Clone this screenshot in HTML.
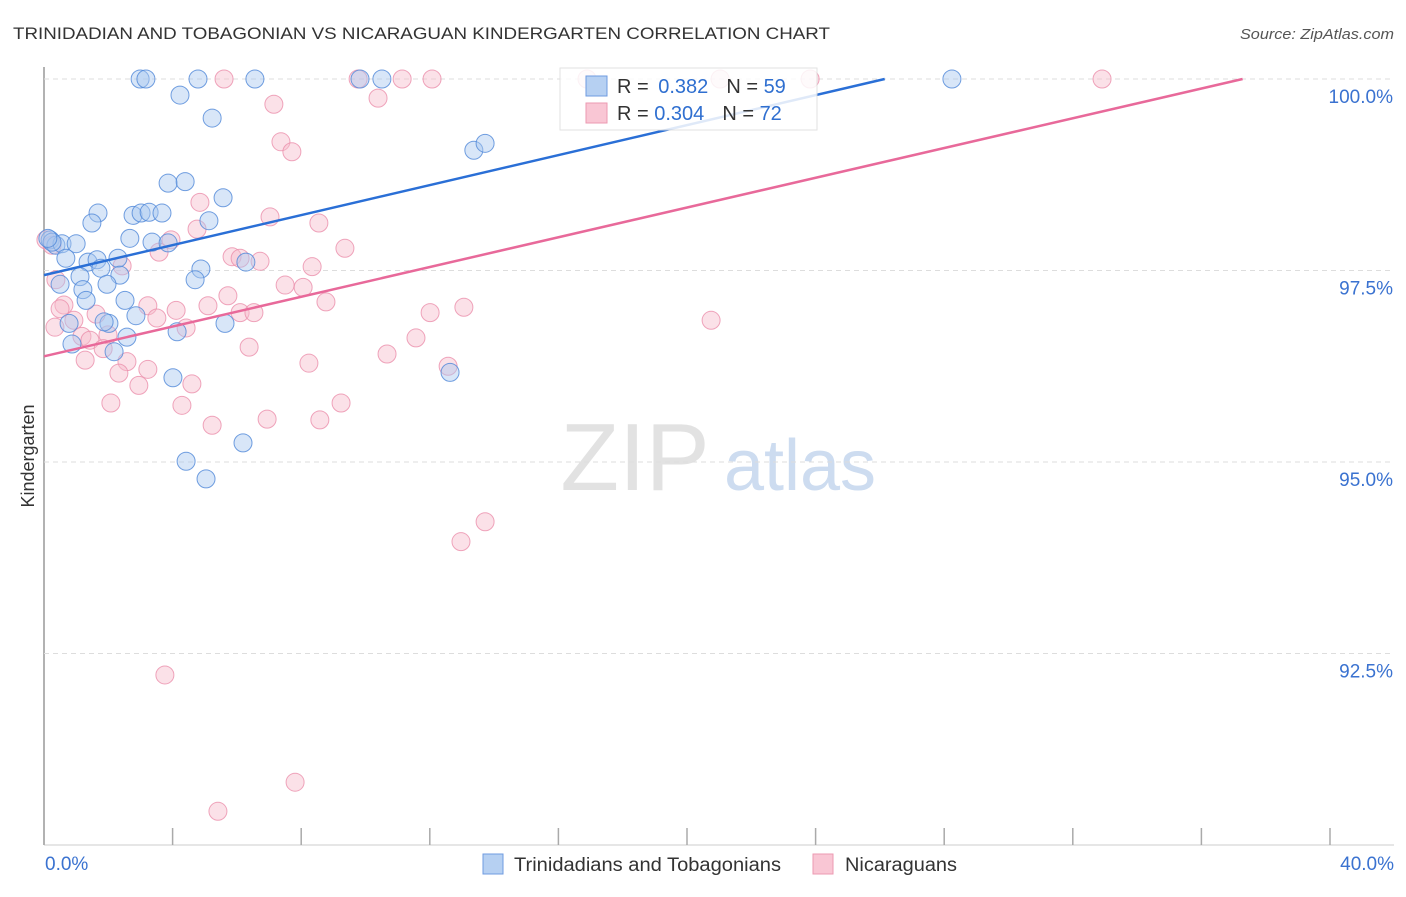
<!DOCTYPE html>
<html><head><meta charset="utf-8"><style>
body{margin:0;background:#fff;font-family:"Liberation Sans",sans-serif}
svg text{font-family:"Liberation Sans",sans-serif}
</style></head><body>
<svg id="c" width="1406" height="892">
<text x="13" y="39" font-size="17" fill="#333" textLength="817" lengthAdjust="spacingAndGlyphs">TRINIDADIAN AND TOBAGONIAN VS NICARAGUAN KINDERGARTEN CORRELATION CHART</text>
<text x="1240" y="39" font-size="15" fill="#555" textLength="154" lengthAdjust="spacingAndGlyphs" font-style="italic">Source: ZipAtlas.com</text>
<text x="34" y="456" font-size="18" fill="#333" text-anchor="middle" transform="rotate(-90 34 456)">Kindergarten</text>
<g><text x="635" y="490" font-size="96" fill="#e2e2e2" text-anchor="middle" font-family="Liberation Serif">ZIP</text><text x="800" y="490" font-size="72" fill="#cddcf0" text-anchor="middle">atlas</text></g>
<g id="grid"></g><g id="pts"></g><g id="lines"></g>
<g>
<rect x="560" y="68" width="257" height="62" fill="#fff" stroke="#ddd" opacity="0.85"/>
<rect x="586" y="76" width="21" height="20" fill="#b6d0f2" stroke="#6f9be0"/>
<rect x="586" y="103" width="21" height="20" fill="#f9c6d4" stroke="#ec9ab2"/>
<text x="617" y="93" font-size="20" fill="#333">R = <tspan fill="#2f6fd0" dx="4">0.382</tspan><tspan dx="18" fill="#333">N = </tspan><tspan fill="#2f6fd0">59</tspan></text>
<text x="617" y="120" font-size="20" fill="#333">R = <tspan fill="#2f6fd0">0.304</tspan><tspan dx="18" fill="#333">N = </tspan><tspan fill="#2f6fd0">72</tspan></text>
</g>
<g>
<rect x="483" y="854" width="20" height="20" fill="#b6d0f2" stroke="#6f9be0"/>
<text x="514" y="871" font-size="19" fill="#333" textLength="267" lengthAdjust="spacingAndGlyphs">Trinidadians and Tobagonians</text>
<rect x="813" y="854" width="20" height="20" fill="#f9c6d4" stroke="#ec9ab2"/>
<text x="845" y="871" font-size="19" fill="#333" textLength="112" lengthAdjust="spacingAndGlyphs">Nicaraguans</text>
</g>
</svg>
<script>
const yTicks=[100,97.5,95,92.5];
const yTickLabels=["100.0%","97.5%","95.0%","92.5%"];
const xTicks=[0,4,8,12,16,20,24,28,32,36,40];
const xEndLabels=["0.0%","40.0%"];
const blueX=[2.99,3.17,4.79,6.56,9.83,10.51,28.24,4.23,5.23,13.37,13.72,3.86,4.39,5.57,1.68,2.77,3.02,3.27,3.67,1.49,5.13,2.67,3.36,0.19,0.37,0.56,1.0,0.68,1.37,1.65,1.77,2.3,2.36,6.28,4.88,1.12,4.7,0.5,1.96,1.21,1.31,2.52,2.86,0.78,2.02,1.87,4.14,5.63,2.58,0.87,2.18,4.01,12.63,6.19,4.42,5.04,3.86,0.25,0.12];
const blueY=[100,100,100,100,100,100,100,99.79,99.49,99.07,99.16,98.64,98.66,98.45,98.25,98.22,98.25,98.26,98.25,98.12,98.15,97.92,97.87,97.9,97.83,97.85,97.85,97.66,97.61,97.64,97.53,97.66,97.44,97.61,97.52,97.42,97.38,97.32,97.32,97.25,97.11,97.11,96.91,96.81,96.81,96.83,96.70,96.81,96.63,96.54,96.44,96.10,96.17,95.25,95.01,94.78,97.86,97.87,97.92];
const pinkX=[9.77,11.14,12.07,5.6,16.89,21.03,23.83,32.91,10.39,7.15,7.37,7.71,4.85,7.03,8.55,4.76,3.95,9.36,3.58,5.85,6.1,6.72,2.43,8.34,7.5,8.06,5.72,0.62,3.23,5.1,8.77,13.06,4.11,12.01,1.62,6.1,6.53,0.93,3.51,4.42,0.34,20.75,1.18,1.43,1.99,1.84,6.38,11.57,1.28,10.67,12.57,8.24,2.58,2.33,3.23,2.95,4.6,2.08,4.29,9.24,6.94,8.58,5.23,13.72,12.97,3.76,7.81,5.41,0.06,0.25,0.37,0.5];
const pinkY=[100,100,100,100,100,100,100,100,99.75,99.67,99.18,99.05,98.39,98.2,98.12,98.04,97.9,97.79,97.74,97.68,97.66,97.62,97.56,97.55,97.31,97.28,97.17,97.05,97.04,97.04,97.09,97.02,96.98,96.95,96.93,96.95,96.95,96.85,96.88,96.75,96.76,96.85,96.64,96.59,96.66,96.48,96.5,96.62,96.33,96.41,96.25,96.29,96.31,96.16,96.21,96.0,96.02,95.77,95.74,95.77,95.56,95.55,95.48,94.22,93.96,92.22,90.82,90.44,97.9,97.83,97.38,97.0];
const blueTrend=[97.44,0.0979];
const pinkTrend=[96.38,0.0971];
const X0=44,X1=1330,PT=67,PB=845;
const sx=v=>X0+(v/40)*(X1-X0);
const sy=v=>79+(100-v)*76.6;
const NS="http://www.w3.org/2000/svg";
function mk(t,a,p){const e=document.createElementNS(NS,t);for(const k in a)e.setAttribute(k,a[k]);p.appendChild(e);return e;}
const g=document.getElementById('grid');
const ax=mk('line',{x1:X0,x2:X0,y1:PT,y2:PB,stroke:'#999','stroke-width':1.5},g);


yTicks.forEach((v,i)=>{
 const l=mk('line',{x1:X0,x2:1394,y1:sy(v),y2:sy(v),stroke:'#ddd','stroke-dasharray':'5,4'},g);
 
 
 const t=mk('text',{x:1393,y:sy(v)+24,'font-size':19,fill:'#3a72d0','text-anchor':'end'},g);
 t.textContent=yTickLabels[i];
 
 
});
const bx=mk('line',{x1:X0,x2:1394,y1:PB,y2:PB,stroke:'#ccc'},g);


xTicks.forEach(v=>{
 const l=mk('line',{x1:sx(v),x2:sx(v),y1:828,y2:PB,stroke:'#aaa','stroke-width':1.5},g);
 
 
});
[[0,'start',45],[40,'end',1394]].forEach((d,i)=>{
 const t=mk('text',{x:d[2],y:870,'font-size':19,fill:'#3a72d0','text-anchor':d[1]},g);
 t.textContent=xEndLabels[i];
 
 
});
const P=document.getElementById('pts');
function pts(xs,ys,fill,stroke,name){
 xs.forEach((x,i)=>{
  const c=mk('circle',{cx:sx(x),cy:sy(ys[i]),r:9,fill:fill,'fill-opacity':0.45,stroke:stroke,'stroke-opacity':0.8,'stroke-width':1},P);
  
  
 });
}
pts(pinkX,pinkY,'#f7bccc','#eb8fab','nicaraguan-point');
pts(blueX,blueY,'#a9c8ef','#4f87d8','trinidadian-point');
const L=document.getElementById('lines');
function trend(tr,color,name){
 const xe=Math.min(40,(100-tr[0])/tr[1]);
 const l=mk('line',{x1:sx(0),y1:sy(tr[0]),x2:sx(xe),y2:sy(tr[0]+tr[1]*xe),stroke:color,'stroke-width':2.5},L);
 
 
}
trend(blueTrend,'#2a6fd6','trinidadian-trend-line');
trend(pinkTrend,'#e8699a','nicaraguan-trend-line');
</script>
</body></html>
